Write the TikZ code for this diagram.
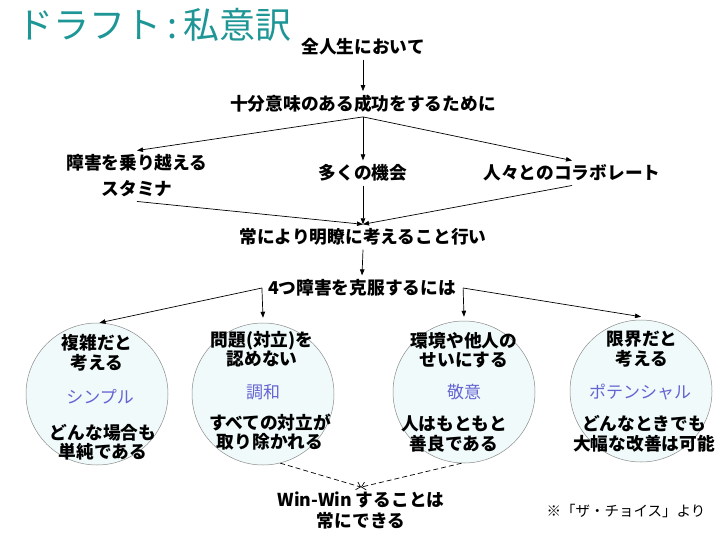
\documentclass[tikz,border=0pt]{standalone}
\usepackage{fontspec}
\setmainfont{Noto Sans CJK JP}
\usetikzlibrary{arrows.meta}
\definecolor{titlecol}{RGB}{30,150,150}
\definecolor{bluecol}{RGB}{100,100,210}
\definecolor{circfill}{RGB}{240,250,250}
\definecolor{circline}{RGB}{140,140,140}
\begin{document}
\begin{tikzpicture}[x=1pt,y=-1pt,
  lbl/.style={font=\fontsize{17.7}{21}\selectfont\bfseries, inner sep=4pt, align=center},
  ctext/.style={font=\fontsize{17.7}{19.5}\selectfont\bfseries, inner sep=0pt, align=center},
  keyword/.style={font=\fontsize{17}{20}\selectfont, text=bluecol, inner sep=0pt},
  bubble/.style={circle, draw=circline, fill=circfill, line width=0.5pt, minimum size=142pt, inner sep=0pt},
  arr/.style={-{Triangle[length=6pt,width=4.5pt]}, line width=0.7pt},
  darr/.style={-{Straight Barb[length=4pt,width=8pt]}, dash pattern=on 5pt off 3pt, line width=0.7pt}]
\useasboundingbox (0,0) rectangle (728,546);
\fill[white] (0,0) rectangle (728,546);

% title
\node[anchor=west, text=titlecol, font=\fontsize{36}{40}\selectfont, inner sep=0pt] (title) at (17,25) {ドラフト\,:\,私意訳};

% flow nodes
\node[lbl] (n1) at (363,47) {全人生において};
\node[lbl] (n2) at (363,104) {十分意味のある成功をするために};
\node[lbl, font=\fontsize{17.7}{26}\selectfont\bfseries] (sta) at (137,176) {障害を乗り越える\\スタミナ};
\node[lbl] (opp) at (363,173) {多くの機会};
\node[lbl] (col) at (572,173) {人々とのコラボレート};
\node[lbl] (n4) at (363,237) {常により明瞭に考えること行い};
\node[lbl] (n5) at (362,288) {4つ障害を克服するには};

% circles
\node[bubble] (c1) at (97,394) {};
\node[bubble] (c2) at (263,394) {};
\node[bubble] (c3) at (464,392) {};
\node[bubble] (c4) at (641,391) {};

% circle texts
\node[ctext] (t1a) at (97,353) {複雑だと\\考える};
\node[keyword] (k1) at (100,397) {シンプル};
\node[ctext] (t1b) at (103,442) {どんな場合も\\単純である};

\node[ctext] (t2a) at (262,349) {問題(対立)を\\認めない};
\node[keyword] (k2) at (263,392) {調和};
\node[ctext] (t2b) at (270,432) {すべての対立が\\取り除かれる};

\node[ctext] (t3a) at (464,350) {環境や他人の\\せいにする};
\node[keyword] (k3) at (464,392) {敬意};
\node[ctext] (t3b) at (454,434) {人はもともと\\善良である};

\node[ctext] (t4a) at (642,349) {限界だと\\考える};
\node[keyword] (k4) at (640,392) {ポテンシャル};
\node[ctext] (t4b) at (644,434) {どんなときでも\\大幅な改善は可能};

% bottom
\node[lbl, font=\fontsize{17.7}{21}\selectfont\bfseries] (win) at (361,510) {Win-Win することは\\常にできる};
\node[font=\fontsize{14.5}{17}\selectfont, inner sep=0pt] (note) at (626,511) {※「ザ・チョイス」より};

% connectors
\draw[arr] (n1.south) -- (n2.north);
\draw[arr] (n2.south) -- (sta.north);
\draw[arr] (n2.south) -- (opp.north);
\draw[arr] (n2.south) -- (col.north);
\draw[arr] (sta.south) -- (n4.north);
\draw[arr] (opp.south) -- (n4.north);
\draw[arr] (col.south) -- (n4.north);
\draw[arr] (n4.south) -- (n5.north);

\coordinate (bl) at ([xshift=-2pt]n5.west);
\coordinate (br) at ([xshift=3pt]n5.east);
\draw[arr] (bl) -- (c1.88);
\draw[arr] (bl) -- ([yshift=5pt]c2.north);
\draw[arr] (br) -- ([yshift=4pt]c3.north);
\draw[arr] (br) -- ([yshift=3pt]c4.north);

\draw[darr] (c2.-76) -- (win.north);
\draw[darr] (c3.-92) -- (win.north);
\end{tikzpicture}
\end{document}
